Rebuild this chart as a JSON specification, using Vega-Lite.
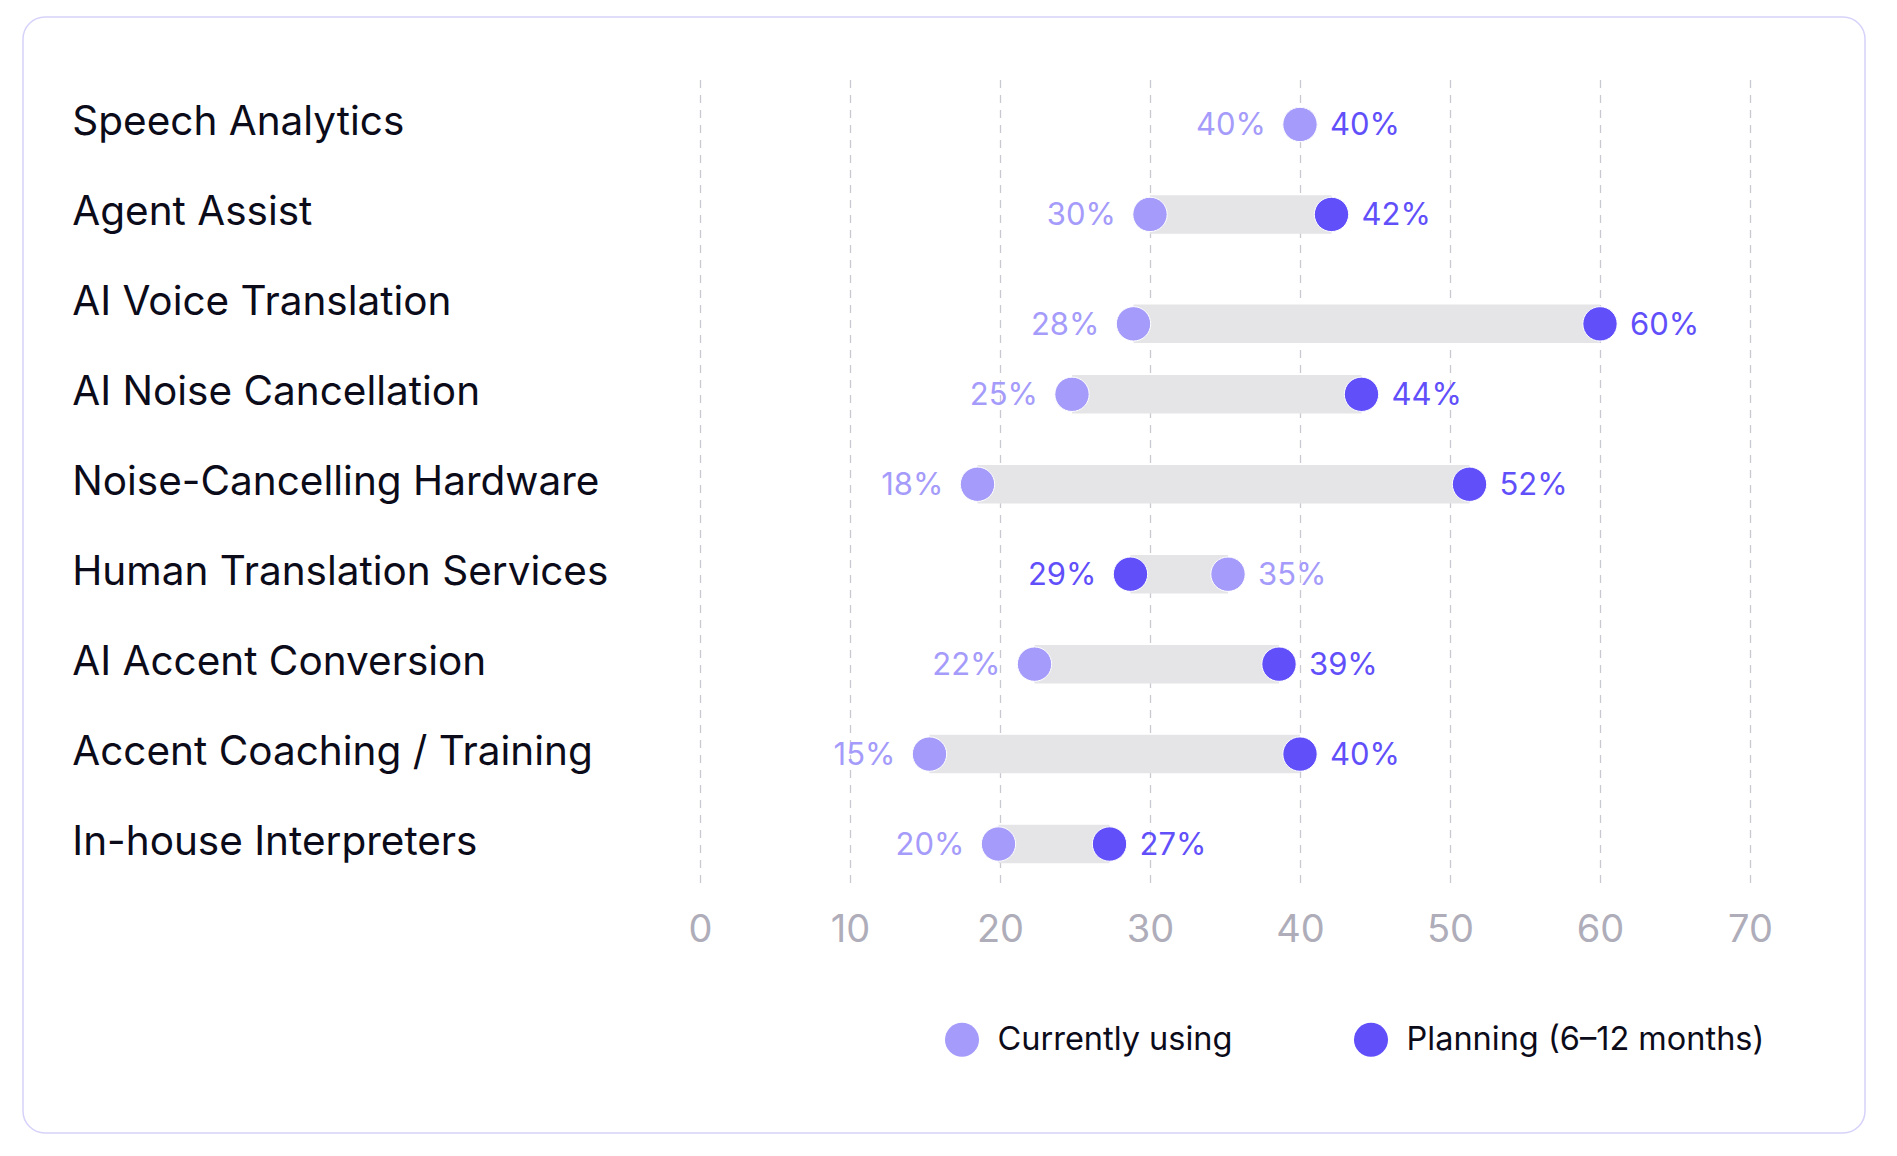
{
  "$schema": "https://vega.github.io/schema/vega-lite/v6.json",
  "width": 1842,
  "height": 1116,
  "autosize": {"type": "none"},
  "padding": {"left": 23, "top": 17, "right": 32, "bottom": 23},
  "background": "white",
  "config": {
    "font": "Inter",
    "view": {"stroke": "#d6d2fa", "strokeWidth": 1.5, "cornerRadius": 22, "fill": "white"}
  },
  "data": {
    "values": [
      {"category": "Speech Analytics", "current": 40, "planning": 40, "currentText": "40%", "planningText": "40%"},
      {"category": "Agent Assist", "current": 30, "planning": 42.1, "currentText": "30%", "planningText": "42%"},
      {"category": "AI Voice Translation", "current": 28.9, "planning": 60, "currentText": "28%", "planningText": "60%"},
      {"category": "AI Noise Cancellation", "current": 24.8, "planning": 44.1, "currentText": "25%", "planningText": "44%"},
      {"category": "Noise-Cancelling Hardware", "current": 18.5, "planning": 51.3, "currentText": "18%", "planningText": "52%"},
      {"category": "Human Translation Services", "current": 35.2, "planning": 28.7, "currentText": "35%", "planningText": "29%"},
      {"category": "AI Accent Conversion", "current": 22.3, "planning": 38.6, "currentText": "22%", "planningText": "39%"},
      {"category": "Accent Coaching / Training", "current": 15.3, "planning": 40, "currentText": "15%", "planningText": "40%"},
      {"category": "In-house Interpreters", "current": 19.9, "planning": 27.3, "currentText": "20%", "planningText": "27%"}
    ]
  },
  "encoding": {
    "y": {
      "field": "category",
      "type": "nominal",
      "sort": null,
      "scale": {"range": [62.5, 872], "paddingInner": 0, "paddingOuter": 0},
      "axis": null
    }
  },
  "layer": [
    {
      "mark": {"type": "bar", "height": 38.5, "color": "#e5e5e8", "yOffset": {"expr": "datum.category === 'AI Voice Translation' ? 19.5 : 0"}},
      "encoding": {
        "x": {
          "field": "current", "type": "quantitative", "title": null,
          "scale": {"domain": [-45.1333, 77.6667], "nice": false, "zero": false},
          "axis": {"orient": "top", "values": [0, 10, 20, 30, 40, 50, 60, 70], "grid": true, "gridDash": [8, 7], "gridColor": "#c9c9d2", "gridWidth": 1.3, "domain": false, "ticks": false, "tickSize": 0, "labelFontSize": 38, "labelColor": "#aeadb9", "labelFont": "Inter", "labelBaseline": "alphabetic", "labelPadding": -924, "labelFlush": false, "title": null}
        },
        "x2": {"field": "planning"}
      }
    },
    {
      "transform": [{"fold": ["planning", "current"], "as": ["key", "value"]}],
      "mark": {"type": "circle", "size": 1180, "opacity": 1, "stroke": "white", "strokeWidth": 1, "yOffset": {"expr": "datum.category === 'AI Voice Translation' ? 19.5 : 0"}},
      "encoding": {
        "x": {"field": "value", "type": "quantitative", "title": null, "scale": {"domain": [-45.1333, 77.6667], "nice": false, "zero": false}},
        "color": {
          "field": "key", "type": "nominal",
          "scale": {"domain": ["current", "planning"], "range": ["#a59bfa", "#614ffa"]},
          "legend": {
            "title": null, "orient": "none", "legendX": 921.5, "legendY": 1005, "direction": "horizontal",
            "symbolType": "circle", "symbolSize": 1160, "symbolStrokeWidth": 0, "symbolOpacity": 1,
            "labelFontSize": 32.5, "labelFont": "Inter", "labelColor": "#0b0b1a", "labelOffset": 18,
            "columnPadding": 121, "padding": 0, "labelLimit": 600,
            "labelExpr": "datum.label === 'current' ? 'Currently using' : 'Planning (6–12 months)'"
          }
        },
        "order": {"field": "key", "sort": "descending"}
      }
    },
    {
      "transform": [{"filter": "datum.current <= datum.planning"}],
      "mark": {"type": "text", "align": "right", "baseline": "middle", "dx": -34, "dy": 2, "fontSize": 31, "color": "#a59bfa", "yOffset": {"expr": "datum.category === 'AI Voice Translation' ? 19.5 : 0"}},
      "encoding": {
        "x": {"field": "current", "type": "quantitative", "title": null, "scale": {"domain": [-45.1333, 77.6667], "nice": false, "zero": false}},
        "text": {"field": "currentText"}
      }
    },
    {
      "transform": [{"filter": "datum.current > datum.planning"}],
      "mark": {"type": "text", "align": "left", "baseline": "middle", "dx": 30, "dy": 2, "fontSize": 31, "color": "#a59bfa", "yOffset": {"expr": "datum.category === 'AI Voice Translation' ? 19.5 : 0"}},
      "encoding": {
        "x": {"field": "current", "type": "quantitative", "title": null, "scale": {"domain": [-45.1333, 77.6667], "nice": false, "zero": false}},
        "text": {"field": "currentText"}
      }
    },
    {
      "transform": [{"filter": "datum.planning >= datum.current"}],
      "mark": {"type": "text", "align": "left", "baseline": "middle", "dx": 30, "dy": 2, "fontSize": 31, "color": "#614ffa", "yOffset": {"expr": "datum.category === 'AI Voice Translation' ? 19.5 : 0"}},
      "encoding": {
        "x": {"field": "planning", "type": "quantitative", "title": null, "scale": {"domain": [-45.1333, 77.6667], "nice": false, "zero": false}},
        "text": {"field": "planningText"}
      }
    },
    {
      "transform": [{"filter": "datum.planning < datum.current"}],
      "mark": {"type": "text", "align": "right", "baseline": "middle", "dx": -34, "dy": 2, "fontSize": 31, "color": "#614ffa", "yOffset": {"expr": "datum.category === 'AI Voice Translation' ? 19.5 : 0"}},
      "encoding": {
        "x": {"field": "planning", "type": "quantitative", "title": null, "scale": {"domain": [-45.1333, 77.6667], "nice": false, "zero": false}},
        "text": {"field": "planningText"}
      }
    },
    {
      "mark": {"type": "text", "align": "left", "baseline": "middle", "dy": -1, "fontSize": 40.5, "color": "#0b0b1a"},
      "encoding": {
        "x": {"datum": -41.85, "type": "quantitative", "title": null, "scale": {"domain": [-45.1333, 77.6667], "nice": false, "zero": false}},
        "text": {"field": "category"}
      }
    }
  ]
}
